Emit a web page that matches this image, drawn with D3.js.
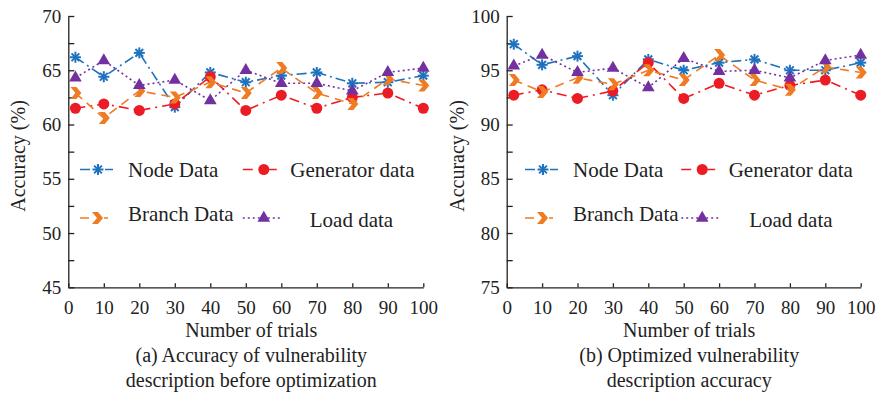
<!DOCTYPE html>
<html>
<head>
<meta charset="utf-8">
<script src="https://cdn.jsdelivr.net/npm/d3@7"></script>
<style>
  body { margin: 0; background: #fff; }
</style>
</head>
<body>
<div id="chart"></div>
<script>
// number of trials
const trials = [2, 10, 20, 30, 40, 50, 60, 70, 80, 90, 100];
const xTicks = [0, 10, 20, 30, 40, 50, 60, 70, 80, 90, 100];

// (a) before optimization
const nodeA = [66.2, 64.4, 66.6, 61.6, 64.8, 63.9, 64.5, 64.8, 63.8, 63.9, 64.5];
const genA = [61.5, 61.9, 61.3, 61.9, 64.4, 61.3, 62.7, 61.5, 62.5, 62.9, 61.5];
const branchA = [62.9, 60.6, 63.1, 62.5, 63.9, 62.9, 65.2, 62.9, 61.9, 64.2, 63.6];
const loadA = [64.3, 65.9, 63.6, 64.1, 62.2, 65.0, 63.8, 63.8, 63.1, 64.8, 65.2];

// (b) after optimization
const nodeB = [97.4, 95.5, 96.3, 92.7, 96.0, 95.0, 95.7, 96.0, 95.0, 95.0, 95.7];
const genB = [92.7, 93.2, 92.4, 93.1, 95.7, 92.4, 93.8, 92.7, 93.6, 94.1, 92.7];
const branchB = [94.1, 93.0, 94.3, 93.7, 95.0, 94.1, 96.4, 94.1, 93.2, 95.3, 94.8];
const loadB = [95.4, 96.4, 94.8, 95.2, 93.4, 96.1, 94.9, 95.0, 94.3, 95.9, 96.4];

const seriesNames = ["Node Data", "Generator data", "Branch Data", "Load data"];

const FONT = '"Liberation Serif", "Times New Roman", serif';
const W = 881, H = 402;
const svg = d3.select("#chart").append("svg")
  .attr("width", W).attr("height", H);

// line / marker styles per series
const styles = [
  { color: "#1f72bd", dash: "10,4,2,4", marker: "star" },
  { color: "#ec1c24", dash: "10,5,2,5", marker: "circle" },
  { color: "#ef7b22", dash: "9,6", marker: "chevron" },
  { color: "#7330a0", dash: "2,3", marker: "triangle" }
];

function drawMarker(g, type, color) {
  if (type === "star") {
    const r = 5.5;
    for (let a = 0; a < 4; a++) {
      const ang = a * Math.PI / 4;
      g.append("line")
        .attr("x1", -r * Math.cos(ang)).attr("y1", -r * Math.sin(ang))
        .attr("x2", r * Math.cos(ang)).attr("y2", r * Math.sin(ang))
        .attr("stroke", color).attr("stroke-width", 2);
    }
  } else if (type === "circle") {
    g.append("circle").attr("r", 5.5).attr("fill", color);
  } else if (type === "chevron") {
    g.append("path").attr("d", "M-5,-6 L1,-6 L6,0 L1,6 L-5,6 L0,0 Z").attr("fill", color);
  } else {
    g.append("path").attr("d", d3.symbol().type(d3.symbolTriangle).size(70)()).attr("fill", color);
  }
}

function label(g, x, y, txt, size) {
  return g.append("text").attr("x", x).attr("y", y)
    .style("font-family", FONT).style("font-size", size + "px")
    .attr("fill", "#222").text(txt);
}

function panel(opt) {
  const x = d3.scaleLinear().domain([0, 100]).range([opt.x0, opt.x1]);
  const y = d3.scaleLinear().domain(opt.yDomain).range([287.3, 16]);
  const g = svg.append("g");

  const yTicks = d3.range(opt.yDomain[0], opt.yDomain[1] + 0.1, 2.5);

  g.append("g")
    .attr("transform", `translate(${opt.x0},0)`)
    .call(d3.axisLeft(y).tickValues(yTicks).tickSizeInner(-6).tickSizeOuter(0).tickPadding(7)
      .tickFormat(d => d % 5 === 0 ? d : ""))
    .call(a => {
      a.selectAll("path, line").attr("stroke", "#222").attr("stroke-width", 1.3);
      a.selectAll("text").style("font-family", FONT).style("font-size", "19px").attr("fill", "#222");
    });

  g.append("g")
    .attr("transform", "translate(0,287.3)")
    .call(d3.axisBottom(x).tickValues(xTicks).tickSizeInner(-4).tickSizeOuter(0).tickPadding(13))
    .call(a => {
      a.selectAll("path, line").attr("stroke", "#222").attr("stroke-width", 1.3);
      a.selectAll("text").style("font-family", FONT).style("font-size", "19px").attr("fill", "#222");
    });

  // y axis title
  g.append("text")
    .attr("transform", `translate(${opt.yLabelX},156) rotate(-90)`)
    .attr("text-anchor", "middle").attr("dominant-baseline", "central")
    .style("font-family", FONT).style("font-size", "20px").attr("fill", "#222")
    .text("Accuracy (%)");

  const cx = (opt.x0 + opt.x1) / 2 + 5.5;
  label(g, cx, 337, "Number of trials", 20).attr("text-anchor", "middle");
  opt.caption.forEach((c, i) => {
    label(g, cx, 362 + i * 25, c, 20).attr("text-anchor", "middle");
  });

  // series
  const line = d3.line().x((d, i) => x(trials[i])).y(d => y(d));
  opt.series.forEach((vals, s) => {
    const st = styles[s];
    g.append("path").datum(vals)
      .attr("d", line).attr("fill", "none")
      .attr("stroke", st.color).attr("stroke-width", 1.6)
      .attr("stroke-dasharray", st.dash);
    vals.forEach((v, i) => {
      const m = g.append("g").attr("transform", `translate(${x(trials[i])},${y(v)})`);
      drawMarker(m, st.marker, st.color);
    });
  });

  // legend
  const leg = [
    { lx: opt.x0 + opt.legOff, ly: 169.5, len: 33, mx: 18, tx: 48, ty: 169.5 },
    { lx: opt.x0 + 174.5, ly: 169.5, len: 38, mx: 21, tx: 47.5, ty: 169.5 },
    { lx: opt.x0 + opt.legOff, ly: 218, len: 38, mx: 17, tx: 48, ty: 214 },
    { lx: opt.x0 + 174.5, ly: 218, len: 38, mx: 21, tx: opt.loadTx, ty: 219.5 }
  ];
  leg.forEach((p, s) => {
    const st = styles[s];
    g.append("line")
      .attr("x1", p.lx).attr("x2", p.lx + p.len).attr("y1", p.ly).attr("y2", p.ly)
      .attr("stroke", st.color).attr("stroke-width", 1.6)
      .attr("stroke-dasharray", s === 3 ? "2,3" : (s === 2 ? "9,10" : "10,14"));
    const m = g.append("g").attr("transform", `translate(${p.lx + p.mx},${p.ly})`);
    if (st.marker !== "circle" && st.marker !== "triangle") {
      m.append("rect").attr("x", -7).attr("y", -7).attr("width", 14).attr("height", 14).attr("fill", "#fff");
    }
    drawMarker(m, st.marker, st.color);
    label(g, p.lx + p.tx, p.ty, seriesNames[s], 21).attr("dominant-baseline", "central");
  });
}

panel({
  x0: 68.3, x1: 423.3, yDomain: [45, 70], yLabelX: 17.5, legOff: 11.7, loadTx: 67,
  series: [nodeA, genA, branchA, loadA],
  caption: ["(a) Accuracy of vulnerability", "description before optimization"]
});

panel({
  x0: 506.7, x1: 860.7, yDomain: [75, 100], yLabelX: 456.5, legOff: 18.3, loadTx: 68,
  series: [nodeB, genB, branchB, loadB],
  caption: ["(b) Optimized vulnerability", "description accuracy"]
});
</script>
</body>
</html>
